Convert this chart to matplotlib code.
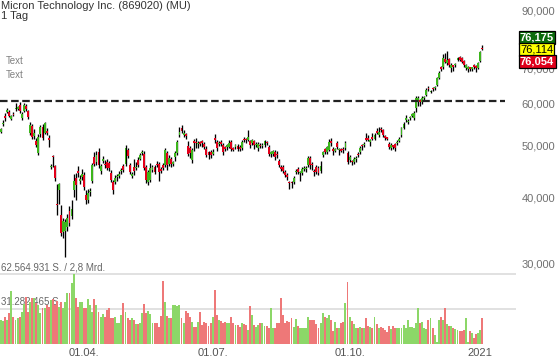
import numpy as np
import pandas as pd
import matplotlib
matplotlib.use('Agg')
import matplotlib.pyplot as plt
from matplotlib.ticker import FixedLocator, FuncFormatter, NullLocator

plt.rcParams['font.family'] = ['Liberation Sans', 'DejaVu Sans']

# chart texts
title = 'Micron Technology Inc. (869020) (MU)'
period = '1 Tag'
note_lines = ['Text', 'Text']
vol_label_top = '62.564.931 S. / 2,8 Mrd.'
vol_label_mid = '31.282.465 S.'
quote_labels = ['76,175', '76,114', '76,054']

# daily candles (EUR)
opens = [53.2, 55.0, 56.8, 58.0, 58.0, 56.2, 57.5, 58.7, 58.8, 59.7,
         56.5, 58.2, 59.4, 58.2, 53.0, 54.5, 52.2, 51.0, 48.4, 52.6,
         54.3, 53.0, 53.4, 51.8, 45.6, 47.9, 45.8, 38.9, 41.3, 37.0,
         34.4, 34.6, 35.1, 37.6, 36.8, 41.3, 43.5, 44.8, 43.0, 43.7,
         44.1, 40.4, 39.5, 40.9, 42.9, 47.6, 46.6, 48.7, 44.8, 46.8,
         46.2, 46.6, 46.4, 44.5, 42.7, 42.7, 43.6, 43.8, 44.8, 45.8,
         46.2, 49.1, 46.0, 43.9, 45.6, 45.4, 47.0, 47.3, 48.4, 48.3,
         45.6, 42.7, 43.1, 45.0, 45.6, 46.3, 46.2, 45.1, 46.0, 46.0,
         48.5, 46.2, 47.2, 46.3, 47.6, 48.5, 52.4, 54.0, 52.4, 52.6,
         49.9, 49.6, 47.0, 51.0, 50.8, 50.4, 50.8, 51.0, 50.4, 49.3,
         48.7, 48.7, 48.3, 51.7, 50.8, 50.4, 50.6, 50.2, 49.6, 49.8,
         49.8, 50.8, 49.5, 49.8, 50.0, 49.8, 49.6, 51.4, 51.4, 51.3,
         51.0, 50.6, 51.0, 50.2, 49.6, 50.3, 50.0, 50.2, 50.8, 49.8,
         48.3, 48.3, 48.7, 48.2, 46.8, 45.6, 45.6, 44.6, 44.1, 42.7,
         42.6, 42.7, 44.6, 45.3, 44.4, 44.4, 45.2, 45.2, 46.0, 47.4,
         46.2, 44.8, 45.6, 45.4, 44.8, 48.1, 49.3, 48.7, 49.1, 51.1,
         49.3, 49.0, 50.6, 49.1, 49.3, 49.3, 49.6, 48.5, 47.0, 46.8,
         46.6, 47.2, 48.2, 48.7, 50.1, 50.1, 51.6, 51.8, 50.8, 51.9,
         51.6, 53.2, 52.4, 53.8, 53.6, 52.1, 51.7, 50.4, 49.6, 50.0,
         50.4, 50.6, 51.1, 52.4, 54.1, 56.0, 55.4, 56.4, 57.0, 56.4,
         58.9, 60.5, 61.0, 60.5, 61.6, 62.4, 64.2, 63.2, 64.3, 64.3,
         65.2, 67.2, 70.2, 70.5, 73.0, 71.7, 73.0, 70.3, 70.9, 71.0,
         72.8, 73.5, 73.2, 72.3, 70.3, 69.9, 70.3, 69.9, 71.0, 70.9,
         70.2, 72.3, 76.18]

closes = [53.7, 55.3, 56.5, 58.4, 57.0, 57.0, 57.2, 58.9, 59.0, 58.2,
          57.4, 59.7, 58.8, 56.8, 54.8, 52.0, 53.0, 50.3, 52.0, 54.3,
          51.8, 55.2, 53.0, 51.2, 45.9, 47.6, 43.5, 38.6, 42.4, 34.3,
          36.0, 35.9, 36.6, 35.8, 38.0, 42.9, 42.2, 44.5, 43.3, 44.3,
          41.8, 39.5, 40.8, 41.1, 46.0, 46.3, 48.1, 46.0, 45.8, 47.2,
          46.0, 45.4, 45.4, 43.1, 41.3, 43.5, 43.8, 44.2, 45.1, 45.0,
          49.5, 47.8, 44.6, 44.2, 44.8, 45.7, 46.0, 48.1, 48.6, 45.4,
          43.1, 44.6, 45.4, 45.6, 44.6, 46.0, 44.6, 44.9, 45.4, 49.1,
          46.0, 47.4, 46.2, 46.5, 48.5, 50.8, 53.1, 53.4, 52.9, 52.1,
          48.3, 48.4, 49.1, 50.7, 50.6, 50.5, 50.5, 50.6, 49.8, 48.1,
          48.1, 48.1, 48.7, 51.3, 49.6, 50.6, 50.5, 48.7, 49.4, 49.9,
          50.6, 49.4, 49.2, 50.2, 49.4, 49.4, 50.8, 51.2, 51.2, 52.0,
          50.2, 51.3, 50.2, 50.3, 50.4, 50.0, 50.1, 51.0, 50.6, 48.3,
          48.6, 48.9, 47.6, 48.0, 46.0, 45.3, 44.8, 44.1, 43.7, 42.5,
          42.5, 43.5, 44.8, 44.6, 44.5, 45.2, 45.3, 45.4, 47.4, 46.0,
          46.0, 44.6, 44.6, 44.4, 45.8, 48.7, 48.7, 49.8, 50.8, 50.7,
          48.9, 49.3, 49.8, 49.2, 48.9, 49.1, 50.6, 46.6, 47.6, 46.6,
          47.2, 47.4, 48.0, 49.5, 49.9, 50.4, 51.4, 51.4, 51.3, 51.6,
          52.4, 53.0, 53.1, 53.6, 52.4, 51.8, 51.6, 49.8, 50.2, 49.8,
          49.6, 50.8, 51.6, 54.1, 55.0, 56.4, 55.8, 56.6, 57.4, 57.6,
          61.6, 61.6, 60.5, 61.6, 61.8, 63.8, 64.0, 63.5, 64.0, 64.4,
          67.2, 68.7, 69.9, 73.3, 72.0, 72.6, 71.2, 71.2, 70.6, 71.2,
          73.0, 72.6, 72.0, 71.1, 71.1, 70.4, 70.0, 70.2, 70.6, 70.2,
          71.6, 75.3, 76.11]

highs = [54.0, 56.0, 57.7, 58.9, 58.4, 57.3, 58.0, 60.3, 59.6, 60.4,
         58.0, 60.2, 60.0, 58.5, 55.4, 55.0, 53.8, 51.8, 52.6, 54.8,
         55.0, 55.4, 54.0, 52.4, 46.3, 48.1, 46.0, 42.4, 42.6, 38.7,
         36.5, 36.4, 37.2, 38.5, 39.6, 44.3, 44.4, 45.8, 44.0, 45.2,
         44.6, 41.3, 41.5, 41.6, 46.4, 48.6, 49.0, 49.6, 46.2, 47.8,
         47.0, 47.2, 46.8, 45.0, 43.1, 44.0, 44.2, 44.8, 45.5, 46.2,
         50.3, 49.6, 46.4, 44.6, 47.2, 46.6, 47.6, 48.5, 49.2, 49.0,
         46.0, 45.0, 46.4, 46.0, 46.0, 46.8, 46.6, 45.6, 46.4, 49.6,
         49.0, 48.0, 47.6, 46.9, 49.0, 51.2, 54.2, 54.8, 53.5, 53.0,
         51.0, 50.0, 49.5, 51.6, 51.8, 51.0, 51.1, 51.3, 50.8, 50.0,
         49.0, 49.1, 49.4, 52.6, 51.4, 51.0, 51.2, 50.6, 50.0, 50.4,
         51.2, 51.2, 49.8, 50.5, 50.4, 50.2, 51.2, 52.0, 51.8, 53.6,
         51.4, 51.6, 51.4, 50.8, 50.8, 50.6, 50.6, 51.3, 51.0, 50.1,
         49.0, 49.2, 49.1, 48.8, 47.2, 46.0, 46.0, 45.0, 44.4, 43.0,
         43.0, 43.8, 45.2, 45.6, 44.9, 45.6, 45.8, 45.8, 47.8, 47.8,
         46.6, 45.2, 46.0, 45.8, 46.8, 49.0, 49.6, 50.0, 51.6, 51.8,
         49.8, 49.6, 51.0, 49.6, 49.6, 49.8, 51.0, 48.9, 48.0, 47.0,
         47.6, 47.8, 48.6, 49.9, 50.4, 50.8, 53.0, 52.4, 51.6, 53.0,
         53.0, 54.0, 54.2, 54.4, 53.8, 52.4, 52.0, 50.8, 50.6, 50.2,
         50.6, 51.2, 52.0, 54.4, 55.4, 57.2, 56.2, 57.0, 57.8, 58.2,
         62.0, 62.0, 61.4, 62.0, 62.2, 64.2, 64.8, 63.8, 64.6, 65.0,
         67.6, 69.2, 70.8, 74.5, 75.0, 75.5, 73.4, 71.6, 71.2, 71.8,
         73.6, 73.8, 73.6, 72.6, 71.5, 70.8, 70.6, 70.6, 71.4, 71.2,
         72.0, 75.6, 77.6]

lows = [52.9, 54.5, 55.6, 57.6, 56.6, 55.9, 56.9, 58.2, 58.5, 57.8,
        56.0, 57.9, 58.3, 56.3, 52.5, 51.6, 51.6, 49.8, 48.0, 52.0,
        51.4, 52.6, 52.4, 49.8, 45.3, 45.6, 43.0, 37.0, 38.9, 33.8,
        33.5, 30.9, 34.6, 35.3, 36.4, 40.0, 39.5, 43.6, 42.3, 43.2,
        41.3, 38.9, 39.0, 40.3, 42.5, 45.9, 46.0, 45.5, 44.3, 46.5,
        45.4, 45.0, 44.8, 42.8, 40.6, 42.3, 43.0, 43.4, 44.2, 44.6,
        45.8, 47.4, 44.2, 43.5, 44.0, 45.0, 45.6, 47.0, 48.0, 45.0,
        42.6, 42.2, 42.8, 44.6, 44.2, 45.6, 43.0, 44.4, 45.0, 45.6,
        45.0, 45.8, 45.6, 45.8, 46.8, 48.0, 52.0, 52.9, 52.0, 51.5,
        47.8, 47.4, 46.5, 49.0, 49.6, 49.6, 49.9, 49.8, 49.3, 47.6,
        47.2, 47.5, 48.0, 50.6, 49.0, 50.0, 50.0, 48.0, 49.0, 49.2,
        49.5, 48.8, 48.8, 49.4, 49.0, 49.0, 49.2, 50.8, 50.6, 51.0,
        49.6, 50.2, 49.4, 49.8, 49.0, 49.6, 49.6, 49.8, 50.2, 47.8,
        47.6, 47.8, 47.1, 47.4, 45.6, 44.8, 44.4, 43.6, 43.2, 41.4,
        41.6, 42.4, 44.2, 44.2, 43.0, 44.0, 44.8, 44.6, 45.6, 45.2,
        45.0, 43.8, 44.2, 44.0, 44.4, 47.6, 48.2, 48.3, 48.8, 50.0,
        48.0, 48.6, 49.4, 48.0, 48.6, 48.4, 49.2, 46.2, 46.6, 46.0,
        46.2, 46.6, 47.6, 48.2, 49.2, 49.8, 51.0, 51.0, 50.0, 51.2,
        51.2, 52.6, 52.0, 53.2, 52.0, 51.2, 51.2, 49.4, 49.2, 49.4,
        49.0, 50.2, 50.8, 52.0, 53.8, 55.4, 55.0, 56.0, 56.6, 56.0,
        58.0, 59.6, 59.5, 60.0, 61.0, 62.0, 63.4, 62.8, 63.4, 63.8,
        64.8, 66.8, 69.2, 70.0, 71.6, 71.2, 70.4, 69.0, 69.4, 70.6,
        72.2, 72.2, 71.6, 70.6, 69.6, 69.0, 69.2, 69.2, 70.0, 68.9,
        69.8, 72.0, 75.8]

# daily volume in million shares
volumes = [21.5, 20.6, 24.5, 21.5, 27.4, 47.4, 24.5, 21.5, 23.0, 24.5,
           28.9, 35.5, 42.3, 28.9, 37.9, 41.5, 40.9, 36.4, 34.9, 27.4,
           31.9, 31.9, 34.9, 33.4, 39.4, 40.3, 34.9, 38.5, 33.4, 37.9,
           31.9, 37.9, 45.3, 45.3, 54.3, 62.6, 40.9, 33.4, 37.3, 37.9,
           31.9, 32.5, 40.3, 34.9, 28.9, 40.3, 34.9, 28.3, 24.5, 26.6,
           24.5, 30.4, 32.5, 23.0, 23.0, 24.5, 18.5, 18.5, 26.0, 36.4,
           28.9, 23.0, 21.5, 23.0, 21.5, 17.6, 17.6, 18.5, 27.4, 35.5,
           27.4, 29.5, 26.6, 18.5, 18.5, 18.5, 15.5, 25.4, 56.4, 37.9,
           25.4, 23.0, 23.0, 34.9, 34.9, 34.3, 34.9, 23.0, 18.5, 29.5,
           27.4, 24.5, 20.0, 15.5, 15.5, 20.0, 28.9, 17.0, 20.0, 18.5,
           16.4, 18.5, 24.5, 48.3, 26.0, 21.5, 20.6, 18.5, 20.0, 18.5,
           18.5, 24.5, 18.5, 17.0, 17.0, 15.5, 18.5, 17.6, 17.0, 12.6,
           34.3, 26.0, 17.0, 15.5, 17.0, 18.5, 18.5, 16.4, 16.4, 14.6,
           32.5, 14.6, 14.6, 18.5, 18.5, 41.5, 26.0, 18.5, 20.6, 20.0,
           23.0, 15.5, 22.4, 16.4, 14.6, 14.0, 14.0, 14.6, 24.5, 21.5,
           21.5, 21.5, 17.6, 14.0, 18.5, 27.4, 24.5, 23.6, 26.0, 21.5,
           11.7, 20.0, 14.6, 14.6, 18.5, 20.0, 36.4, 55.8, 24.5, 20.6,
           17.6, 14.6, 14.6, 15.5, 14.6, 14.0, 23.0, 16.4, 15.5, 14.6,
           24.5, 17.6, 14.0, 15.5, 14.6, 12.6, 10.5, 16.4, 13.4, 16.4,
           14.6, 14.6, 14.0, 14.6, 17.0, 14.6, 21.5, 15.5, 15.5, 14.6,
           18.5, 31.9, 18.5, 20.0, 14.6, 13.4, 21.5, 23.6, 14.6, 8.1,
           1.5, 21.5, 24.5, 21.5, 31.9, 17.6, 16.4, 16.4, 14.6, 13.4,
           12.6, 11.7, 11.7, 12.6, 23.6, 1.5, 11.7, 9.6, 5.7, 8.7,
           9.6, 12.6, 23.6]

support_level = 60.8
volume_max = 62.564931
price_ticks = [30, 40, 50, 60, 70, 90]
holidays = ['2020-04-10', '2020-04-13', '2020-05-01', '2020-12-24',
            '2020-12-25', '2020-12-31', '2021-01-01']
tick_dates = ['2020-04-01', '2020-07-01', '2020-10-01', '2021-01-01']
tick_labels = ['01.04.', '01.07.', '01.10.', '2021']

W, H = 560, 363
fig = plt.figure(figsize=(W / 100, H / 100), dpi=100)

# pixel layout of the two panels
plot_right = 516
ax_v = fig.add_axes([0, 1 - 344 / H, plot_right / W, (344 - 262) / H])
ax = fig.add_axes([0, 1 - 270 / H, plot_right / W, 270 / H])
ax.patch.set_alpha(0)

o = np.array(opens)
c = np.array(closes)
hi = np.array(highs)
lo = np.array(lows)
x = np.arange(len(c))
up = c >= o

green, red = '#3cb51c', '#e2001a'
body_lo = np.minimum(o, c)
body_hi = np.maximum(np.maximum(o, c), body_lo * 1.006)

ax.vlines(x, lo, hi, color='black', lw=0.95, zorder=2)
ax.bar(x, body_hi - body_lo, bottom=body_lo, width=0.9,
       color=np.where(up, green, red), lw=0, zorder=3)

ax.set_yscale('log')
ax.set_ylim(29.15, 94.3)
px_per_bar = 2.075
ax.set_xlim(-1 / px_per_bar, (plot_right - 1) / px_per_bar)
ax.axhline(support_level, xmin=0, xmax=505 / plot_right, color='#222222',
           lw=1.6, ls=(0, (3.4, 1.6)), zorder=4)

ax.yaxis.tick_right()
ax.yaxis.set_major_locator(FixedLocator(price_ticks))
ax.yaxis.set_minor_locator(NullLocator())
ax.yaxis.set_major_formatter(FuncFormatter(lambda v, p: f'{v:.3f}'.replace('.', ',')))
ax.tick_params(axis='y', length=0, pad=4, labelsize=8, labelcolor='#707070')
ax.set_xticks([])
for s in ax.spines.values():
    s.set_visible(False)

# volume panel
vol_colors = np.where(up, '#8cd768', '#ee7878')
ax_v.bar(x, volumes, width=0.92, color=vol_colors, lw=0, zorder=3)
ax_v.set_xlim(ax.get_xlim())
ax_v.set_ylim(0, 82 * volume_max / 70)
for lvl in [volume_max, volume_max / 2]:
    ax_v.axhline(lvl, color='#dedede', lw=1.3, zorder=1)
ax_v.text(0, volume_max + 1.5, vol_label_top, fontsize=7, color='#666666',
          va='bottom', ha='left', zorder=2)
ax_v.text(0, volume_max / 2 + 1.5, vol_label_mid, fontsize=7, color='#666666',
          va='bottom', ha='left', zorder=2)
ax_v.set_yticks([])

dates = pd.bdate_range('2020-02-05', periods=len(c), freq='C', holidays=holidays)
tick_idx = [int(np.searchsorted(dates, pd.Timestamp(d))) for d in tick_dates]
ax_v.set_xticks(tick_idx)
ax_v.set_xticklabels(tick_labels)
ax_v.tick_params(axis='x', length=0, pad=3, labelsize=8, labelcolor='#555555')
for s in ax_v.spines.values():
    s.set_visible(False)

# header texts
fig.text(1 / W, 1 - 1 / H, title, fontsize=8, color='#333333', va='top', ha='left')
fig.text(1 / W, 1 - 11 / H, period, fontsize=8, color='#333333', va='top', ha='left')
for i, t in enumerate(note_lines):
    fig.text(6 / W, 1 - (61 + 14 * i) / H, t, fontsize=7, color='#808080',
             va='center', ha='left')

# last quote boxes
box_styles = [('#0b6b0b', 'white', 'bold'), ('#ffff00', 'black', 'normal'),
              ('#e0001b', 'white', 'bold')]
for i, (lab, (fc, tc, fw)) in enumerate(zip(quote_labels, box_styles)):
    fig.text(520 / W, 1 - (37.5 + 12 * i) / H, lab, fontsize=8, color=tc,
             weight=fw, va='center', ha='left', zorder=10,
             bbox=dict(boxstyle='square,pad=0.12', fc=fc, ec='black', lw=0.9))

fig.savefig('out.png', dpi=100)
